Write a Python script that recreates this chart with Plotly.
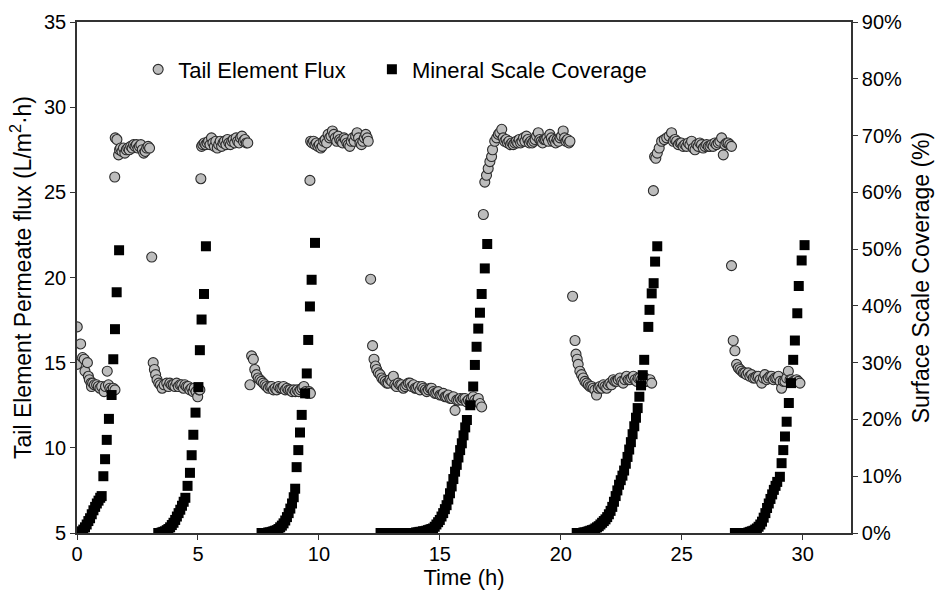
import plotly.graph_objects as go

# Tail element permeate flux (L/m2.h) versus time (h)
flux_time = [
    0.00, 0.01, 0.15, 0.23, 0.30, 0.33, 0.43, 0.47, 0.51, 0.58, 0.60, 0.65, 0.72, 0.81, 0.88, 0.95,
    1.02, 1.12, 1.18, 1.25, 1.30, 1.36, 1.43, 1.50, 1.57,
    1.56, 1.58, 1.65, 1.72, 1.76, 1.80, 1.86, 1.92, 1.98, 2.04, 2.10, 2.16, 2.22, 2.28, 2.34, 2.40,
    2.46, 2.52, 2.58, 2.64, 2.70, 2.76, 2.82, 2.88, 2.94, 3.00, 3.09,
    3.15, 3.20, 3.25, 3.31, 3.38, 3.45, 3.52, 3.60, 3.71, 3.78, 3.84, 3.91, 3.98, 4.05, 4.12, 4.19,
    4.26, 4.33, 4.40, 4.46, 4.53, 4.60, 4.67, 4.74, 4.80, 4.85, 4.92, 4.99, 5.04, 5.08,
    5.12, 5.15, 5.20, 5.26, 5.32, 5.38, 5.44, 5.50, 5.56, 5.62, 5.68, 5.74, 5.80, 5.86, 5.92, 5.98,
    6.04, 6.10, 6.16, 6.22, 6.28, 6.34, 6.40, 6.46, 6.52, 6.58, 6.64, 6.70, 6.76, 6.82, 6.88, 6.94,
    7.00, 7.06,
    7.15, 7.22, 7.29, 7.35, 7.42, 7.49, 7.56, 7.63, 7.70, 7.77, 7.84, 7.91, 7.98, 8.05, 8.12, 8.19,
    8.26, 8.33, 8.40, 8.47, 8.54, 8.61, 8.68, 8.75, 8.82, 8.89, 8.96, 9.03, 9.10, 9.17, 9.24, 9.31,
    9.38, 9.45, 9.52, 9.60, 9.65,
    9.63, 9.66, 9.72, 9.78, 9.84, 9.90, 9.96, 10.02, 10.08, 10.14, 10.20, 10.26, 10.32, 10.38, 10.44,
    10.50, 10.56, 10.62, 10.68, 10.74, 10.80, 10.86, 10.92, 10.98, 11.04, 11.10, 11.16, 11.22, 11.28,
    11.34, 11.40, 11.46, 11.52, 11.58, 11.64, 11.70, 11.76, 11.82, 11.88, 11.94, 12.00, 12.04,
    12.14, 12.22, 12.28, 12.34, 12.39, 12.46, 12.53, 12.60, 12.67, 12.74, 12.81, 12.87, 12.94, 13.01,
    13.08, 13.14, 13.21, 13.28, 13.35, 13.42, 13.49, 13.56, 13.63, 13.70, 13.77, 13.84, 13.91, 13.98,
    14.04, 14.11, 14.18, 14.26, 14.33, 14.40, 14.46, 14.53, 14.60, 14.66, 14.73, 14.80, 14.87, 14.94,
    15.01, 15.08, 15.15, 15.22, 15.28, 15.35, 15.42, 15.49, 15.56, 15.63, 15.70, 15.77, 15.84, 15.91,
    15.97, 16.04, 16.11, 16.18, 16.25, 16.31, 16.38, 16.45, 16.52, 16.59, 16.66, 16.73,
    16.80, 16.86, 16.93, 17.00, 17.07, 17.14, 17.18, 17.27, 17.35, 17.42, 17.48, 17.56, 17.62, 17.68,
    17.74, 17.80, 17.86, 17.92, 17.98, 18.04, 18.10, 18.16, 18.22, 18.28, 18.34, 18.40, 18.46, 18.52,
    18.58, 18.64, 18.70, 18.76, 18.82, 18.88, 18.94, 19.00, 19.07, 19.13, 19.19, 19.25, 19.31, 19.37,
    19.43, 19.49, 19.55, 19.61, 19.67, 19.73, 19.79, 19.85, 19.91, 19.97, 20.03, 20.10, 20.16, 20.22,
    20.28, 20.34, 20.38,
    20.49, 20.59, 20.63, 20.68, 20.72, 20.79, 20.86, 20.93, 21.00, 21.07, 21.14, 21.21, 21.28, 21.34,
    21.41, 21.48, 21.55, 21.62, 21.69, 21.76, 21.83, 21.90, 21.96, 22.03, 22.10, 22.17, 22.24, 22.31,
    22.38, 22.45, 22.52, 22.58, 22.65, 22.72, 22.79, 22.86, 22.93, 23.00, 23.07, 23.14, 23.20, 23.27,
    23.34, 23.41, 23.48, 23.55, 23.62, 23.69, 23.76,
    23.83, 23.88, 23.93, 23.99, 24.07, 24.17, 24.28, 24.38, 24.48, 24.58, 24.65, 24.72, 24.79, 24.86,
    24.93, 24.99, 25.06, 25.13, 25.20, 25.27, 25.34, 25.41, 25.48, 25.55, 25.62, 25.68, 25.75, 25.82,
    25.89, 25.96, 26.03, 26.10, 26.17, 26.24, 26.30, 26.37, 26.44, 26.51, 26.58, 26.65, 26.72, 26.79,
    26.86, 26.92, 26.99, 27.06,
    27.06, 27.13, 27.20, 27.27, 27.34, 27.41, 27.48, 27.55, 27.61, 27.68, 27.75, 27.82, 27.89, 27.96,
    28.03, 28.10, 28.17, 28.24, 28.31, 28.38, 28.44, 28.51, 28.58, 28.65, 28.72, 28.79, 28.86, 28.93,
    29.00, 29.07, 29.13, 29.20, 29.27, 29.34, 29.41, 29.48, 29.54, 29.61, 29.68, 29.75, 29.82, 29.89,
]
flux_value = [
    14.9, 17.1, 16.1, 15.3, 15.2, 14.5, 15.0, 14.2, 14.0, 13.8, 13.6, 13.8, 13.7, 13.7, 13.6, 13.5,
    13.6, 13.3, 13.6, 14.5, 13.7, 13.5, 13.4, 13.5, 13.4,
    25.9, 28.2, 28.1, 27.2, 27.5, 27.6, 27.4, 27.6, 27.3, 27.5, 27.6, 27.5, 27.7, 27.6, 27.8, 27.7,
    27.8, 27.6, 27.7, 27.8, 27.5, 27.3, 27.4, 27.6, 27.7, 27.6, 21.2,
    15.0, 14.6, 14.3, 14.0, 13.8, 13.7, 13.5, 13.7, 13.8, 13.6, 13.8, 13.7, 13.7, 13.6, 13.8, 13.6,
    13.7, 13.7, 13.5, 13.7, 13.6, 13.6, 13.4, 13.5, 13.3, 13.5, 13.3, 13.0, 13.4, 13.4,
    25.8, 27.7, 27.8, 27.9, 27.8, 27.9, 28.0, 27.8, 28.2, 27.9, 27.7, 28.0, 27.6, 27.8, 28.0, 27.7,
    27.9, 28.0, 27.8, 28.1, 27.9, 27.8, 28.0, 28.1, 27.9, 28.2, 28.0, 27.9, 28.2, 28.3, 28.0, 28.1,
    27.9, 27.9,
    13.7, 15.4, 15.2, 14.6, 14.3, 14.1, 14.0, 13.9, 13.8, 13.7, 13.6, 13.5, 13.6, 13.6, 13.4, 13.5,
    13.4, 13.6, 13.5, 13.5, 13.6, 13.4, 13.5, 13.4, 13.4, 13.3, 13.4, 13.3, 13.4, 13.3, 13.4, 13.5,
    13.6, 13.3, 13.2, 13.3, 13.2,
    25.7, 28.0, 27.9, 28.0, 27.8, 27.9, 27.7, 27.8, 27.6, 27.7, 28.0, 28.1, 27.9, 28.4, 28.2,
    28.3, 28.6, 28.4, 28.2, 28.0, 28.3, 28.1, 28.0, 27.9, 28.2, 28.1, 27.9, 27.8, 27.7,
    28.0, 28.2, 28.0, 28.3, 28.5, 28.2, 27.9, 27.8, 28.0, 28.2, 28.4, 28.2, 28.0,
    19.9, 16.0, 15.2, 14.8, 14.6, 14.4, 14.3, 14.1, 14.0, 13.9, 13.8, 13.8, 14.0, 13.9,
    14.2, 13.7, 13.6, 13.8, 13.7, 13.7, 13.5, 13.6, 13.7, 13.8, 13.8, 13.6, 13.7, 13.5,
    13.5, 13.6, 13.4, 13.6, 13.5, 13.4, 13.3, 13.4, 13.5, 13.5, 13.3, 13.2, 13.2, 13.3,
    13.1, 13.1, 13.2, 13.0, 13.0, 13.1, 12.9, 12.9, 13.0, 12.2, 12.8, 12.8, 12.9, 12.8,
    12.9, 12.9, 12.7, 12.8, 12.7, 12.9, 13.0, 12.8, 12.7, 12.9, 12.6, 12.4,
    23.7, 25.6, 26.0, 26.4, 26.8, 27.1, 27.5, 28.0, 28.2, 28.4, 28.5, 28.7, 28.2, 28.0,
    28.1, 27.9, 28.0, 27.8, 27.9, 27.8, 27.9, 28.0, 27.9, 28.1, 27.9, 28.0, 28.2, 28.0,
    28.3, 28.1, 27.9, 28.0, 27.9, 28.0, 28.1, 28.3, 28.5, 28.1, 28.0, 27.9, 28.1, 28.1,
    28.2, 28.0, 28.4, 28.2, 28.0, 28.1, 27.9, 28.1, 28.0, 28.2, 28.3, 28.6, 28.2, 28.0,
    28.1, 27.9, 28.0,
    18.9, 16.3, 15.5, 15.2, 14.9, 14.5, 14.3, 14.1, 13.9, 13.8, 13.7, 13.6, 13.6, 13.5,
    13.4, 13.1, 13.5, 13.6, 13.5, 13.7, 13.6, 13.5, 13.7, 13.8, 13.7, 14.0, 13.9, 13.9,
    14.0, 14.1, 13.9, 13.8, 14.0, 14.2, 14.0, 14.0, 14.1, 14.2, 14.0, 13.9, 14.1, 14.1,
    14.0, 14.0, 14.1, 13.9, 13.9, 14.0, 13.8,
    25.1, 27.1, 27.0, 27.3, 27.6, 28.0, 28.1, 28.2, 28.3, 28.5, 28.0, 28.1, 28.0, 27.8,
    27.9, 27.9, 27.7, 27.8, 27.7, 27.9, 27.8, 28.0, 27.6, 27.5, 27.8, 27.7, 27.9, 27.8,
    27.6, 27.7, 27.8, 27.7, 27.7, 27.8, 27.7, 27.9, 27.8, 27.9, 28.0, 28.2, 27.2, 27.8,
    27.9, 27.9, 27.8, 27.7,
    20.7, 16.3, 15.7, 14.9, 14.7, 14.6, 14.5, 14.4, 14.4, 14.3, 14.4, 14.2, 14.3, 14.1,
    14.1, 14.2, 14.2, 14.0, 13.8, 14.1, 14.3, 14.0, 14.1, 14.2, 14.2, 14.0, 14.1, 14.1,
    14.2, 13.9, 13.5, 13.9, 13.9, 14.1, 14.5, 14.0, 14.0, 13.9, 13.9, 14.0, 13.9, 13.8,
]

# Mineral scale surface coverage (%) versus time (h)
coverage_time = [
    0.12, 0.19, 0.26, 0.33, 0.40, 0.47, 0.54, 0.61, 0.68, 0.75, 0.82, 0.89, 0.96, 1.02,
    1.09, 1.16, 1.23, 1.32, 1.43, 1.50, 1.57, 1.64, 1.74,
    3.36, 3.43, 3.50, 3.57, 3.64, 3.71, 3.78, 3.85, 3.92, 3.99, 4.06, 4.13, 4.20, 4.27, 4.34, 4.41, 4.48,
    4.57, 4.67, 4.74, 4.81, 4.90, 5.02, 5.08, 5.15, 5.25, 5.33,
    7.63, 7.70, 7.77, 7.84, 7.91, 7.98, 8.05, 8.12, 8.19, 8.26, 8.33, 8.40, 8.47, 8.54, 8.61, 8.68,
    8.75, 8.82, 8.89, 8.96, 9.02, 9.08, 9.15, 9.22, 9.29, 9.43, 9.50, 9.56, 9.63, 9.70, 9.84,
    12.55, 12.62, 12.69, 12.76, 12.83, 12.90, 12.97, 13.04, 13.11, 13.18, 13.25, 13.32, 13.39, 13.46,
    13.53, 13.60, 13.67, 13.74, 13.81, 13.88, 13.95, 14.02, 14.09, 14.16, 14.23, 14.30, 14.37, 14.44,
    14.51, 14.58, 14.65, 14.72, 14.79, 14.86, 14.93, 15.00, 15.07, 15.14, 15.21, 15.28, 15.35, 15.42,
    15.49, 15.56, 15.63, 15.70, 15.77, 15.84, 15.91, 15.98, 16.05, 16.12,
    16.26, 16.38, 16.45, 16.52, 16.59, 16.66, 16.73, 16.86, 16.96,
    20.66, 20.73, 20.80, 20.87, 20.94, 21.01, 21.08, 21.15, 21.22, 21.29, 21.36, 21.43, 21.50, 21.57,
    21.64, 21.71, 21.78, 21.85, 21.92, 21.99, 22.06, 22.13, 22.20, 22.27, 22.34, 22.41, 22.48, 22.55,
    22.62, 22.69, 22.76, 22.83, 22.90, 22.97, 23.04, 23.11, 23.18, 23.25, 23.32,
    23.39, 23.45, 23.62, 23.67, 23.76, 23.84, 23.90, 23.99,
    27.20, 27.27, 27.34, 27.41, 27.48, 27.55, 27.62, 27.69, 27.76, 27.83, 27.90, 27.97, 28.04, 28.11,
    28.18, 28.25, 28.32, 28.39, 28.46, 28.53, 28.60, 28.67, 28.74, 28.81, 28.88, 28.95,
    29.06, 29.13, 29.20, 29.27, 29.34, 29.43, 29.52, 29.61, 29.68, 29.78, 29.84, 29.96, 30.08,
]
coverage_value = [
    0.0, 0.3, 0.6, 1.0, 1.5, 2.1, 2.6, 3.3, 4.0, 4.6, 5.2, 5.7, 6.2, 6.5,
    10.0, 13.0, 16.4, 20.1, 24.3, 30.6, 35.9, 42.4, 49.8,
    0.0, 0.0, 0.1, 0.2, 0.3, 0.5, 0.7, 1.0, 1.4, 1.8, 2.3, 2.9, 3.5, 4.1, 4.8, 5.5, 6.2,
    8.3, 10.6, 13.7, 17.3, 21.2, 25.7, 32.2, 37.6, 42.1, 50.5,
    0.0, 0.0, 0.0, 0.0, 0.1, 0.1, 0.2, 0.3, 0.4, 0.5, 0.7, 1.0, 1.3, 1.7, 2.2, 2.8,
    3.5, 4.3, 5.2, 6.3, 7.8, 11.6, 14.6, 17.7, 20.8, 24.6, 28.1, 34.0, 39.9, 44.6, 51.1,
    0.0, 0.0, 0.0, 0.0, 0.0, 0.0, 0.0, 0.0, 0.0, 0.0, 0.0, 0.0, 0.0, 0.0,
    0.0, 0.0, 0.0, 0.0, 0.0, 0.0, 0.0, 0.1, 0.1, 0.2, 0.2, 0.3, 0.3, 0.4,
    0.5, 0.6, 0.7, 0.8, 1.1, 1.5, 1.9, 2.3, 2.9, 3.5, 4.2, 4.9, 5.9, 7.0,
    8.2, 9.5, 10.8, 12.0, 13.3, 14.6, 15.8, 17.2, 18.6, 19.9,
    22.5, 25.8, 29.6, 32.8, 36.0, 38.8, 42.1, 46.6, 50.9,
    0.0, 0.0, 0.0, 0.0, 0.1, 0.1, 0.2, 0.3, 0.4, 0.5, 0.6, 0.8, 1.0, 1.2,
    1.5, 1.8, 2.1, 2.4, 2.8, 3.3, 3.9, 4.6, 5.5, 6.5, 7.5, 8.5, 9.3, 10.1,
    11.0, 12.2, 13.4, 14.7, 16.0, 17.4, 18.8, 20.3, 22.0, 24.0, 26.0,
    27.8, 30.5, 36.3, 39.3, 42.2, 44.0, 47.8, 50.5,
    0.0, 0.0, 0.0, 0.0, 0.0, 0.0, 0.0, 0.0, 0.1, 0.2, 0.3, 0.4, 0.6, 0.8,
    1.1, 1.5, 2.0, 2.7, 3.5, 4.4, 5.2, 6.0, 6.8, 7.6, 8.3, 9.0,
    9.9, 12.3, 14.6, 17.0, 19.6, 22.9, 26.4, 30.5, 33.9, 38.7, 43.5, 48.0, 50.7,
]

x_ticks = [0, 5, 10, 15, 20, 25, 30]
flux_ticks = [5, 10, 15, 20, 25, 30, 35]
coverage_ticks = [0, 10, 20, 30, 40, 50, 60, 70, 80, 90]
coverage_labels = [f"{v}%" for v in coverage_ticks]

FONT = "Liberation Sans, Arial, sans-serif"
AXIS_COLOR = "#333333"

fig = go.Figure()

fig.add_trace(go.Scatter(
    x=flux_time, y=flux_value, mode="markers", name="Tail Element Flux",
    marker=dict(symbol="circle", size=10, color="#bdbdbd",
                line=dict(color="#2b2b2b", width=1.1)),
    yaxis="y", legend="legend",
))

fig.add_trace(go.Scatter(
    x=coverage_time, y=coverage_value, mode="markers", name="Mineral Scale Coverage",
    marker=dict(symbol="square", size=10, color="#000000", line=dict(width=0)),
    yaxis="y2", legend="legend2",
))

axis_common = dict(
    showline=True, linecolor=AXIS_COLOR, linewidth=1.6,
    ticks="outside", ticklen=5, tickwidth=1.4, tickcolor=AXIS_COLOR,
    showgrid=False, zeroline=False, automargin=False,
)

legend_common = dict(
    orientation="h", yanchor="top", y=0.948,
    bgcolor="rgba(0,0,0,0)", borderwidth=0,
    font=dict(family=FONT, size=22, color="#000000"),
    itemclick=False,
)

fig.update_layout(
    width=936, height=590,
    margin=dict(l=77, r=85, t=22, b=57, autoexpand=False),
    paper_bgcolor="white", plot_bgcolor="white",
    font=dict(family=FONT, color="#000000"),
    xaxis=dict(
        range=[0, 32], tickvals=x_ticks, mirror=True,
        tickfont=dict(family=FONT, size=20, color="#000000"),
        ticklabelstandoff=-3,
        title=dict(text="Time (h)", font=dict(family=FONT, size=22), standoff=1),
        **axis_common,
    ),
    yaxis=dict(
        range=[5, 35], tickvals=flux_ticks,
        tickfont=dict(family=FONT, size=20, color="#000000"),
        title=dict(text="Tail Element Permeate flux (L/m<sup>2</sup>·h)",
                   font=dict(family=FONT, size=23), standoff=6),
        **axis_common,
    ),
    yaxis2=dict(
        range=[0, 90], tickvals=coverage_ticks, ticktext=coverage_labels,
        overlaying="y", side="right",
        tickfont=dict(family=FONT, size=20, color="#000000"),
        title=dict(text="Surface Scale Coverage (%)",
                   font=dict(family=FONT, size=23), standoff=12),
        **axis_common,
    ),
    legend=dict(x=0.079, xanchor="left", **legend_common),
    legend2=dict(x=0.381, xanchor="left", **legend_common),
    showlegend=True,
)

fig.write_html("out.html")
